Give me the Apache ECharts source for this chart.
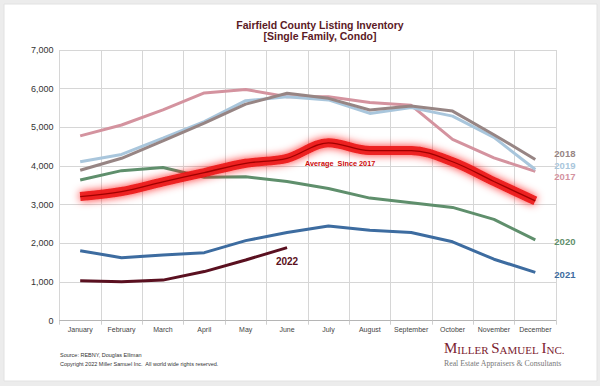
<!DOCTYPE html>
<html>
<head>
<meta charset="utf-8">
<script src="https://cdn.jsdelivr.net/npm/echarts@6/dist/echarts.min.js"></script>
<style>
html,body{margin:0;padding:0;background:#ececec;}
#c{width:600px;height:386px;}
</style>
</head>
<body>
<div id="c"></div>
<script>
var months = ['January','February','March','April','May','June','July','August','September','October','November','December'];
var yTicks = [0, 1000, 2000, 3000, 4000, 5000, 6000, 7000];
var s2017 = [4780, 5060, 5450, 5890, 5980, 5790, 5790, 5640, 5570, 4690, 4210, 3860];
var s2018 = [3890, 4200, 4650, 5110, 5600, 5880, 5750, 5450, 5550, 5420, 4810, 4170];
var s2019 = [4110, 4300, 4720, 5150, 5690, 5790, 5710, 5360, 5510, 5290, 4740, 3910];
var s2020 = [3640, 3880, 3960, 3710, 3720, 3600, 3420, 3170, 3050, 2930, 2620, 2090];
var s2021 = [1810, 1630, 1700, 1760, 2070, 2280, 2450, 2340, 2280, 2040, 1590, 1250];
var s2022 = [1030, 1010, 1050, 1270, 1570, 1890];
var sAvg  = [3210, 3340, 3590, 3830, 4070, 4200, 4600, 4400, 4400, 4110, 3600, 3100];
var avgLabelMonth = 'July';

var chart = echarts.init(document.getElementById('c'), null, {renderer: 'svg'});

function yearSeries(name, data, color, dy, z) {
  return {
    name: name, type: 'line', data: data, symbol: 'none', z: z,
    lineStyle: {color: color, width: 3},
    endLabel: {show: true, formatter: name, color: color, fontWeight: 'bold',
      fontSize: 9.5, lineHeight: 9, fontFamily: 'Liberation Sans', distance: 19, offset: [0, dy]}
  };
}

var option = {
  animation: false,
  backgroundColor: '#ececec',
  graphic: [
    {type: 'rect', z: -10, shape: {x: 4, y: 4, width: 593, height: 377},
     style: {fill: '#ffffff', stroke: '#e2e2e2', lineWidth: 1}},
    {type: 'text', x: 320, y: 19.5, z: 10,
     style: {text: 'Fairfield County Listing Inventory\n[Single Family, Condo]', fill: '#5b1a25',
       textAlign: 'center', font: 'bold 10.5px "Liberation Sans", Arial', lineHeight: 11}},
    {type: 'text', left: 60, top: 352, z: 10,
     style: {text: 'Source: REBNY, Douglas Elliman', fill: '#333', font: '5.5px "Liberation Sans", Arial'}},
    {type: 'text', left: 60, top: 360.5, z: 10,
     style: {text: 'Copyright 2022 Miller Samuel Inc.  All world wide rights reserved.', fill: '#333', font: '5.5px "Liberation Sans", Arial'}},
    {type: 'text', left: 444, top: 340, z: 10,
     style: {text: '{b|M}{s|ILLER }{b|S}{s|AMUEL }{b|I}{s|NC.}',
       rich: {b: {fontFamily: 'Liberation Serif', fontSize: 15, fill: '#7b2230', verticalAlign: 'bottom'},
              s: {fontFamily: 'Liberation Serif', fontSize: 11, fill: '#7b2230', verticalAlign: 'bottom'}}}},
    {type: 'text', left: 444, top: 359, z: 10,
     style: {text: 'Real Estate Appraisers & Consultants', fill: '#777', font: '7.8px "Liberation Serif", serif'}}
  ],
  grid: {left: 59.5, right: 44, top: 50, bottom: 65.3, containLabel: false},
  xAxis: {
    type: 'category', data: months, boundaryGap: true,
    axisLine: {lineStyle: {color: '#b5b5b5', width: 1}},
    axisTick: {show: true, length: 4, lineStyle: {color: '#cfcfcf'}},
    splitLine: {show: true, lineStyle: {color: '#d6d6d6', width: 1}},
    axisLabel: {fontSize: 7, color: '#444', margin: 5, fontFamily: 'Liberation Sans', interval: 0}
  },
  yAxis: {
    type: 'value', min: yTicks[0], max: yTicks[yTicks.length - 1], interval: 1000,
    axisLine: {show: false}, axisTick: {show: false},
    splitLine: {lineStyle: {color: '#d6d6d6', width: 1}},
    axisLabel: {fontSize: 9, color: '#333', margin: 6, fontFamily: 'Liberation Sans',
      formatter: function (v) { return v.toLocaleString('en-US'); }}
  },
  series: [
    yearSeries('2017', s2017, '#d4939f', 5.5, 2),
    yearSeries('2019', s2019, '#a9c6dc', -4, 3),
    yearSeries('2018', s2018, '#978584', -6, 4),
    yearSeries('2020', s2020, '#5f8f6c', 1.7, 5),
    yearSeries('2021', s2021, '#3d6ca0', 1.7, 6),
    {
      name: 'avgGlow', type: 'line', data: sAvg, smooth: 0.35, symbol: 'none', z: 7,
      lineStyle: {color: 'rgba(235,20,20,0.9)', width: 9, shadowBlur: 8, shadowColor: 'rgba(255,0,0,0.9)'}
    },
    {
      name: 'Average', type: 'line', data: sAvg, smooth: 0.35, symbol: 'none', z: 8,
      lineStyle: {color: '#a00000', width: 1.3},
      markPoint: {
        symbol: 'circle', symbolSize: 0,
        data: [{coord: [avgLabelMonth, sAvg[months.indexOf(avgLabelMonth)]]}],
        label: {show: true, position: 'inside', offset: [11.7, 20.5], formatter: 'Average  Since 2017',
          color: '#cc0a0a', fontWeight: 'bold', fontSize: 7.3, fontFamily: 'Liberation Sans'}
      }
    },
    {
      name: '2022', type: 'line', data: s2022, symbol: 'none', z: 9,
      lineStyle: {color: '#5a1020', width: 3},
      markPoint: {
        symbol: 'circle', symbolSize: 0,
        data: [{coord: [months[s2022.length - 1], s2022[s2022.length - 1]]}],
        label: {show: true, position: 'inside', offset: [0, 13.5], formatter: '2022',
          color: '#5a1020', fontWeight: 'bold', fontSize: 10, fontFamily: 'Liberation Sans'}
      }
    }
  ]
};
chart.setOption(option);
</script>
</body>
</html>
